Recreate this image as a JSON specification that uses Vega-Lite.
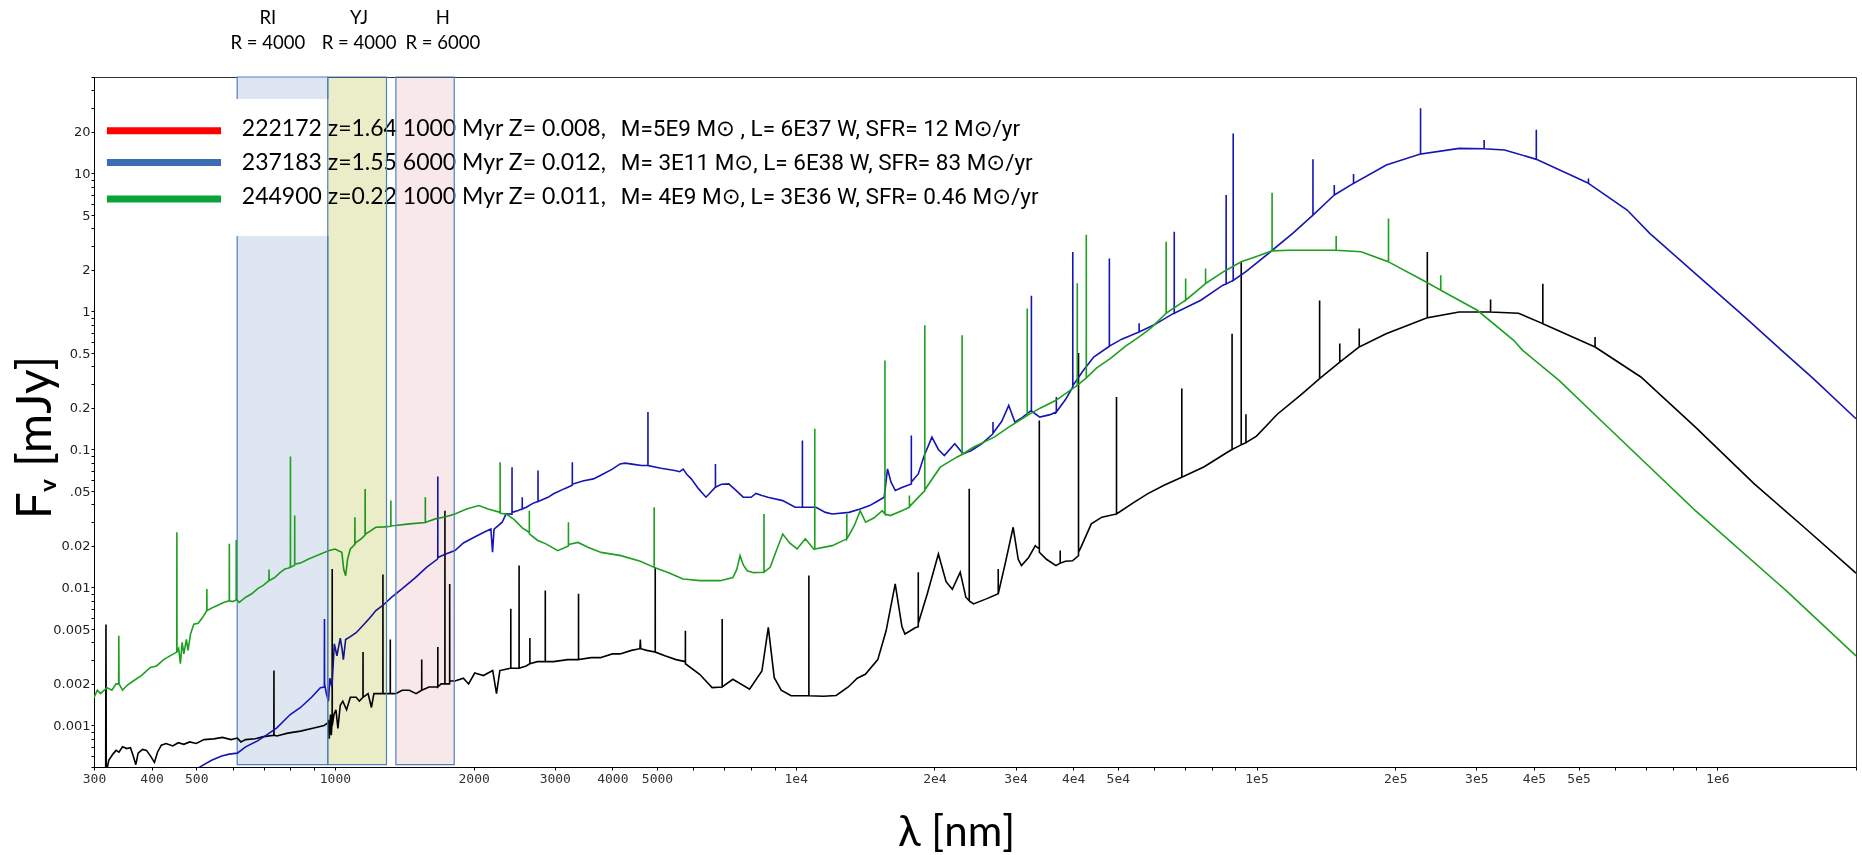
{
  "$schema": "https://vega.github.io/schema/vega-lite/v6.json",
  "width": 1762,
  "height": 690,
  "autosize": {"type": "none"},
  "padding": {"left": 94, "top": 77, "right": 6, "bottom": 88},
  "background": "#ffffff",
  "config": {
    "view": {"stroke": "#333333", "strokeWidth": 1},
    "axis": {"grid": false, "domainColor": "#000000", "tickColor": "#000000", "labelOverlap": false, "labelBound": false, "labelFlush": false}
  },
  "datasets": {
    "bands": [
      {"band": "RI", "R": "R = 4000", "lo": 613.6, "hi": 964.8, "label_nm": 715},
      {"band": "YJ", "R": "R = 4000", "lo": 964.8, "hi": 1294, "label_nm": 1128},
      {"band": "H", "R": "R = 6000", "lo": 1356, "hi": 1815, "label_nm": 1714}
    ],
    "legend": [
      {
        "summary": ["222172 z=1.64 1000 Myr Z= 0.008,", "237183 z=1.55 6000 Myr Z= 0.012,", "244900 z=0.22 1000 Myr Z= 0.011,"],
        "props": ["M=5E9 M⊙ , L= 6E37 W, SFR= 12 M⊙/yr", "M= 3E11 M⊙, L= 6E38 W, SFR= 83 M⊙/yr", "M= 4E9 M⊙, L= 3E36 W, SFR= 0.46 M⊙/yr"]
      }
    ],
    "s222172": [
      {"nm":318,"mJy":0.0004},{"nm":318.5,"mJy":0.0054},{"nm":319,"mJy":0.00045},{"nm":323,"mJy":0.00056},{"nm":329.7,"mJy":0.00062},{"nm":335,"mJy":0.00066},{"nm":339.8,"mJy":0.00064},{"nm":346,"mJy":0.0007},{"nm":353.4,"mJy":0.00068},{"nm":360,"mJy":0.00069},{"nm":365,"mJy":0.0006},{"nm":369.7,"mJy":0.00052},{"nm":374,"mJy":0.00063},{"nm":382.4,"mJy":0.00067},{"nm":390,"mJy":0.00066},{"nm":398,"mJy":0.0006},{"nm":405.8,"mJy":0.00054},{"nm":412,"mJy":0.00064},{"nm":420,"mJy":0.00072},{"nm":430,"mJy":0.00074},{"nm":445,"mJy":0.00071},{"nm":457,"mJy":0.00075},{"nm":470,"mJy":0.00073},{"nm":484,"mJy":0.00076},{"nm":500,"mJy":0.00074},{"nm":520,"mJy":0.00079},{"nm":546,"mJy":0.0008},{"nm":570,"mJy":0.00082},{"nm":595,"mJy":0.00079},{"nm":614,"mJy":0.00081},{"nm":625,"mJy":0.00076},{"nm":640,"mJy":0.00079},{"nm":672,"mJy":0.0008},{"nm":700,"mJy":0.00083},{"nm":737,"mJy":0.00085},{"nm":737.3,"mJy":0.0025},{"nm":737.6,"mJy":0.00085},{"nm":748,"mJy":0.00084},{"nm":790,"mJy":0.00088},{"nm":842,"mJy":0.00091},{"nm":900,"mJy":0.00096},{"nm":948,"mJy":0.001},{"nm":966,"mJy":0.00105},{"nm":968,"mJy":0.0011},{"nm":972,"mJy":0.0008},{"nm":978,"mJy":0.0012},{"nm":982,"mJy":0.00085},{"nm":986.2,"mJy":0.0011},{"nm":986.5,"mJy":0.0136},{"nm":986.8,"mJy":0.001},{"nm":995,"mJy":0.0012},{"nm":1005,"mJy":0.0013},{"nm":1015,"mJy":0.00095},{"nm":1027,"mJy":0.0014},{"nm":1040,"mJy":0.0015},{"nm":1060,"mJy":0.0013},{"nm":1080,"mJy":0.0016},{"nm":1112,"mJy":0.0016},{"nm":1130,"mJy":0.0015},{"nm":1150.5,"mJy":0.0016},{"nm":1150.8,"mJy":0.0034},{"nm":1151.1,"mJy":0.0016},{"nm":1180,"mJy":0.0017},{"nm":1200,"mJy":0.00135},{"nm":1215,"mJy":0.0017},{"nm":1252,"mJy":0.0017},{"nm":1270.8,"mJy":0.0017},{"nm":1271.1,"mJy":0.0124},{"nm":1271.4,"mJy":0.0017},{"nm":1300,"mJy":0.0017},{"nm":1318.4,"mJy":0.0017},{"nm":1318.7,"mJy":0.0042},{"nm":1319,"mJy":0.0017},{"nm":1354,"mJy":0.0017},{"nm":1400,"mJy":0.0018},{"nm":1450,"mJy":0.0018},{"nm":1500,"mJy":0.0017},{"nm":1542.7,"mJy":0.0018},{"nm":1543,"mJy":0.003},{"nm":1543.3,"mJy":0.0018},{"nm":1600,"mJy":0.0019},{"nm":1650,"mJy":0.0019},{"nm":1671.8,"mJy":0.0019},{"nm":1672.1,"mJy":0.0037},{"nm":1672.4,"mJy":0.0019},{"nm":1700,"mJy":0.002},{"nm":1732.4,"mJy":0.002},{"nm":1732.7,"mJy":0.036},{"nm":1733,"mJy":0.002},{"nm":1774,"mJy":0.002},{"nm":1774.3,"mJy":0.0106},{"nm":1774.6,"mJy":0.0021},{"nm":1822,"mJy":0.0021},{"nm":1900,"mJy":0.0022},{"nm":1950,"mJy":0.002},{"nm":2011,"mJy":0.0024},{"nm":2100,"mJy":0.0023},{"nm":2200,"mJy":0.0025},{"nm":2242,"mJy":0.0017},{"nm":2280,"mJy":0.0025},{"nm":2407.5,"mJy":0.0026},{"nm":2408,"mJy":0.007},{"nm":2408.5,"mJy":0.0026},{"nm":2451,"mJy":0.0026},{"nm":2509.5,"mJy":0.0026},{"nm":2510,"mJy":0.0144},{"nm":2510.5,"mJy":0.0026},{"nm":2600,"mJy":0.0027},{"nm":2648.5,"mJy":0.0028},{"nm":2649,"mJy":0.0043},{"nm":2649.5,"mJy":0.0028},{"nm":2750,"mJy":0.0029},{"nm":2860.5,"mJy":0.0029},{"nm":2861,"mJy":0.0095},{"nm":2861.5,"mJy":0.0029},{"nm":2982,"mJy":0.0029},{"nm":3200,"mJy":0.003},{"nm":3377.5,"mJy":0.003},{"nm":3378,"mJy":0.009},{"nm":3378.5,"mJy":0.003},{"nm":3600,"mJy":0.0031},{"nm":3766,"mJy":0.0031},{"nm":4000,"mJy":0.0033},{"nm":4158,"mJy":0.0033},{"nm":4400,"mJy":0.0035},{"nm":4590,"mJy":0.0036},{"nm":4600,"mJy":0.0042},{"nm":4610,"mJy":0.0036},{"nm":4750,"mJy":0.0035},{"nm":4955,"mJy":0.0034},{"nm":4956,"mJy":0.014},{"nm":4957,"mJy":0.0034},{"nm":5200,"mJy":0.0032},{"nm":5500,"mJy":0.003},{"nm":5761,"mJy":0.0029},{"nm":5762,"mJy":0.00485},{"nm":5763,"mJy":0.0028},{"nm":6187,"mJy":0.00235},{"nm":6585,"mJy":0.00188},{"nm":6924,"mJy":0.0019},{"nm":6925,"mJy":0.0059},{"nm":6926,"mJy":0.0019},{"nm":7304,"mJy":0.00216},{"nm":7940,"mJy":0.00183},{"nm":8446,"mJy":0.00248},{"nm":8720,"mJy":0.00513},{"nm":8983,"mJy":0.00222},{"nm":9300,"mJy":0.0018},{"nm":9772,"mJy":0.00164},{"nm":10679,"mJy":0.00164},{"nm":10680,"mJy":0.0122},{"nm":10681,"mJy":0.00164},{"nm":11500,"mJy":0.00163},{"nm":12240,"mJy":0.00165},{"nm":13000,"mJy":0.0019},{"nm":13600,"mJy":0.0022},{"nm":14160,"mJy":0.00235},{"nm":15070,"mJy":0.003},{"nm":15710,"mJy":0.00485},{"nm":16440,"mJy":0.0106},{"nm":17000,"mJy":0.0052},{"nm":17260,"mJy":0.0046},{"nm":18170,"mJy":0.0051},{"nm":18448,"mJy":0.0052},{"nm":18450,"mJy":0.0129},{"nm":18452,"mJy":0.0055},{"nm":19300,"mJy":0.009},{"nm":20400,"mJy":0.0175},{"nm":21200,"mJy":0.011},{"nm":21870,"mJy":0.0097},{"nm":22750,"mJy":0.0129},{"nm":23400,"mJy":0.0085},{"nm":23798,"mJy":0.008},{"nm":23800,"mJy":0.052},{"nm":23802,"mJy":0.008},{"nm":24320,"mJy":0.0076},{"nm":26000,"mJy":0.0083},{"nm":27508,"mJy":0.009},{"nm":27510,"mJy":0.0136},{"nm":27512,"mJy":0.009},{"nm":28500,"mJy":0.015},{"nm":29640,"mJy":0.0273},{"nm":30400,"mJy":0.016},{"nm":30900,"mJy":0.0144},{"nm":32030,"mJy":0.0165},{"nm":33110,"mJy":0.0201},{"nm":33778,"mJy":0.019},{"nm":33780,"mJy":0.162},{"nm":33782,"mJy":0.018},{"nm":35000,"mJy":0.016},{"nm":36710,"mJy":0.0144},{"nm":37498,"mJy":0.015},{"nm":37500,"mJy":0.0185},{"nm":37502,"mJy":0.015},{"nm":38500,"mJy":0.0155},{"nm":39880,"mJy":0.0156},{"nm":41088,"mJy":0.017},{"nm":41090,"mJy":0.5},{"nm":41092,"mJy":0.018},{"nm":41580,"mJy":0.0195},{"nm":43800,"mJy":0.0289},{"nm":46180,"mJy":0.0323},{"nm":49678,"mJy":0.0341},{"nm":49680,"mJy":0.24},{"nm":49682,"mJy":0.0341},{"nm":54000,"mJy":0.041},{"nm":57980,"mJy":0.0477},{"nm":63000,"mJy":0.055},{"nm":68845,"mJy":0.063},{"nm":68850,"mJy":0.276},{"nm":68855,"mJy":0.063},{"nm":77000,"mJy":0.075},{"nm":86440,"mJy":0.0955},{"nm":88505,"mJy":0.1},{"nm":88510,"mJy":0.69},{"nm":88515,"mJy":0.1},{"nm":92645,"mJy":0.108},{"nm":92650,"mJy":2.29},{"nm":92655,"mJy":0.108},{"nm":94865,"mJy":0.112},{"nm":94870,"mJy":0.18},{"nm":94875,"mJy":0.112},{"nm":100000,"mJy":0.125},{"nm":110950,"mJy":0.18},{"nm":125000,"mJy":0.25},{"nm":137070,"mJy":0.326},{"nm":137080,"mJy":1.2},{"nm":137090,"mJy":0.326},{"nm":151590,"mJy":0.43},{"nm":151600,"mJy":0.585},{"nm":151610,"mJy":0.43},{"nm":167090,"mJy":0.553},{"nm":167100,"mJy":0.751},{"nm":167110,"mJy":0.553},{"nm":191100,"mJy":0.69},{"nm":234790,"mJy":0.9},{"nm":234800,"mJy":2.7},{"nm":234810,"mJy":0.9},{"nm":275300,"mJy":0.99},{"nm":322090,"mJy":0.99},{"nm":322100,"mJy":1.22},{"nm":322110,"mJy":0.99},{"nm":370400,"mJy":0.97},{"nm":418190,"mJy":0.816},{"nm":418200,"mJy":1.59},{"nm":418210,"mJy":0.816},{"nm":542990,"mJy":0.553},{"nm":543000,"mJy":0.654},{"nm":543010,"mJy":0.553},{"nm":682600,"mJy":0.335},{"nm":896400,"mJy":0.145},{"nm":1203000,"mJy":0.0563},{"nm":1543000,"mJy":0.0273},{"nm":2000000,"mJy":0.0127}
    ],
    "s237183": [
      {"nm":500,"mJy":0.00045},{"nm":509,"mJy":0.0005},{"nm":540,"mJy":0.00056},{"nm":568,"mJy":0.0006},{"nm":590,"mJy":0.00062},{"nm":614,"mJy":0.00063},{"nm":640,"mJy":0.0007},{"nm":678,"mJy":0.00077},{"nm":710,"mJy":0.00085},{"nm":748,"mJy":0.00096},{"nm":800,"mJy":0.0012},{"nm":842,"mJy":0.00135},{"nm":890,"mJy":0.0016},{"nm":930,"mJy":0.00188},{"nm":948.5,"mJy":0.0019},{"nm":949,"mJy":0.0059},{"nm":949.5,"mJy":0.002},{"nm":958,"mJy":0.0017},{"nm":968,"mJy":0.0015},{"nm":975,"mJy":0.0022},{"nm":985,"mJy":0.0019},{"nm":997,"mJy":0.0039},{"nm":1010,"mJy":0.0032},{"nm":1027,"mJy":0.0043},{"nm":1036,"mJy":0.0036},{"nm":1043,"mJy":0.003},{"nm":1055,"mJy":0.0042},{"nm":1080,"mJy":0.0044},{"nm":1112,"mJy":0.0047},{"nm":1150,"mJy":0.0053},{"nm":1190,"mJy":0.006},{"nm":1227,"mJy":0.0068},{"nm":1270,"mJy":0.0074},{"nm":1328,"mJy":0.0085},{"nm":1400,"mJy":0.0098},{"nm":1495,"mJy":0.0118},{"nm":1580,"mJy":0.014},{"nm":1667,"mJy":0.016},{"nm":1671.7,"mJy":0.0162},{"nm":1672,"mJy":0.0637},{"nm":1672.3,"mJy":0.0165},{"nm":1740,"mJy":0.0175},{"nm":1822,"mJy":0.0185},{"nm":1900,"mJy":0.021},{"nm":2000,"mJy":0.023},{"nm":2100,"mJy":0.025},{"nm":2180,"mJy":0.0265},{"nm":2198,"mJy":0.018},{"nm":2215,"mJy":0.0265},{"nm":2307,"mJy":0.0297},{"nm":2351,"mJy":0.0341},{"nm":2422.7,"mJy":0.034},{"nm":2423,"mJy":0.0744},{"nm":2423.3,"mJy":0.035},{"nm":2490,"mJy":0.036},{"nm":2549.7,"mJy":0.037},{"nm":2550,"mJy":0.0451},{"nm":2550.3,"mJy":0.037},{"nm":2602,"mJy":0.0381},{"nm":2700,"mJy":0.041},{"nm":2758.7,"mJy":0.042},{"nm":2759,"mJy":0.0704},{"nm":2759.3,"mJy":0.042},{"nm":2900,"mJy":0.045},{"nm":2982,"mJy":0.0477},{"nm":3150,"mJy":0.052},{"nm":3274.6,"mJy":0.055},{"nm":3275,"mJy":0.0808},{"nm":3275.4,"mJy":0.056},{"nm":3450,"mJy":0.059},{"nm":3638,"mJy":0.0612},{"nm":3766,"mJy":0.0648},{"nm":4000,"mJy":0.072},{"nm":4158,"mJy":0.0786},{"nm":4263,"mJy":0.0796},{"nm":4450,"mJy":0.078},{"nm":4628,"mJy":0.0765},{"nm":4778.5,"mJy":0.0765},{"nm":4779,"mJy":0.1865},{"nm":4779.5,"mJy":0.0765},{"nm":5100,"mJy":0.073},{"nm":5462,"mJy":0.0704},{"nm":5600,"mJy":0.069},{"nm":5700,"mJy":0.072},{"nm":5800,"mJy":0.066},{"nm":5934,"mJy":0.0612},{"nm":6150,"mJy":0.052},{"nm":6386,"mJy":0.0451},{"nm":6500,"mJy":0.048},{"nm":6695,"mJy":0.0533},{"nm":6696,"mJy":0.0786},{"nm":6697,"mJy":0.0533},{"nm":6900,"mJy":0.056},{"nm":7156,"mJy":0.0563},{"nm":7400,"mJy":0.051},{"nm":7692,"mJy":0.0451},{"nm":8000,"mJy":0.045},{"nm":8200,"mJy":0.048},{"nm":8446,"mJy":0.0464},{"nm":8700,"mJy":0.045},{"nm":9370,"mJy":0.0426},{"nm":9970,"mJy":0.0381},{"nm":10339,"mJy":0.0381},{"nm":10340,"mJy":0.1162},{"nm":10341,"mJy":0.0381},{"nm":11060,"mJy":0.0381},{"nm":11600,"mJy":0.035},{"nm":12010,"mJy":0.0341},{"nm":13050,"mJy":0.035},{"nm":13800,"mJy":0.037},{"nm":14470,"mJy":0.0392},{"nm":15000,"mJy":0.042},{"nm":15560,"mJy":0.0451},{"nm":15820,"mJy":0.0723},{"nm":16100,"mJy":0.058},{"nm":16450,"mJy":0.0504},{"nm":17000,"mJy":0.053},{"nm":17819,"mJy":0.0563},{"nm":17820,"mJy":0.1263},{"nm":17821,"mJy":0.058},{"nm":18450,"mJy":0.0665},{"nm":19000,"mJy":0.09},{"nm":19750,"mJy":0.1229},{"nm":20400,"mJy":0.1},{"nm":21010,"mJy":0.0903},{"nm":22140,"mJy":0.11},{"nm":23080,"mJy":0.093},{"nm":24000,"mJy":0.098},{"nm":25330,"mJy":0.11},{"nm":26799,"mJy":0.13},{"nm":26800,"mJy":0.158},{"nm":26801,"mJy":0.131},{"nm":28000,"mJy":0.16},{"nm":28990,"mJy":0.2084},{"nm":29900,"mJy":0.1578},{"nm":31000,"mJy":0.17},{"nm":32469,"mJy":0.1917},{"nm":32470,"mJy":1.3},{"nm":32471,"mJy":0.19},{"nm":33850,"mJy":0.1715},{"nm":35500,"mJy":0.178},{"nm":36779,"mJy":0.1865},{"nm":36780,"mJy":0.24},{"nm":36781,"mJy":0.187},{"nm":38500,"mJy":0.23},{"nm":39929,"mJy":0.2835},{"nm":39930,"mJy":2.7},{"nm":39931,"mJy":0.29},{"nm":42000,"mJy":0.37},{"nm":44330,"mJy":0.4674},{"nm":47935,"mJy":0.56},{"nm":47940,"mJy":2.42},{"nm":47945,"mJy":0.56},{"nm":51000,"mJy":0.63},{"nm":55615,"mJy":0.7106},{"nm":55620,"mJy":0.82},{"nm":55625,"mJy":0.71},{"nm":60000,"mJy":0.8},{"nm":65900,"mJy":0.9645},{"nm":66295,"mJy":0.97},{"nm":66300,"mJy":3.78},{"nm":66305,"mJy":0.97},{"nm":75710,"mJy":1.207},{"nm":84550,"mJy":1.55},{"nm":85925,"mJy":1.58},{"nm":85930,"mJy":6.98},{"nm":85935,"mJy":1.58},{"nm":89005,"mJy":1.68},{"nm":89010,"mJy":19.5},{"nm":89015,"mJy":1.68},{"nm":95000,"mJy":1.95},{"nm":106100,"mJy":2.63},{"nm":120000,"mJy":3.7},{"nm":132590,"mJy":4.99},{"nm":132600,"mJy":12.66},{"nm":132610,"mJy":4.99},{"nm":147490,"mJy":6.98},{"nm":147500,"mJy":8.25},{"nm":147510,"mJy":6.98},{"nm":162390,"mJy":8.48},{"nm":162400,"mJy":9.92},{"nm":162410,"mJy":8.48},{"nm":191300,"mJy":11.51},{"nm":226990,"mJy":13.84},{"nm":227000,"mJy":29.7},{"nm":227010,"mJy":13.84},{"nm":275300,"mJy":15.2},{"nm":311890,"mJy":15.1},{"nm":311900,"mJy":17.5},{"nm":311910,"mJy":15.1},{"nm":345400,"mJy":14.8},{"nm":404790,"mJy":12.66},{"nm":404800,"mJy":20.7},{"nm":404810,"mJy":12.66},{"nm":525290,"mJy":8.48},{"nm":525300,"mJy":9.2},{"nm":525310,"mJy":8.48},{"nm":637300,"mJy":5.43},{"nm":713600,"mJy":3.68},{"nm":896400,"mJy":1.88},{"nm":1124000,"mJy":0.97},{"nm":1379000,"mJy":0.523},{"nm":1616000,"mJy":0.326},{"nm":2000000,"mJy":0.167}
    ],
    "s244900": [
      {"nm":300,"mJy":0.00159},{"nm":305,"mJy":0.0018},{"nm":310,"mJy":0.0017},{"nm":320,"mJy":0.00188},{"nm":328,"mJy":0.0018},{"nm":335,"mJy":0.002},{"nm":339.3,"mJy":0.002},{"nm":339.6,"mJy":0.00447},{"nm":340,"mJy":0.002},{"nm":346,"mJy":0.0018},{"nm":353,"mJy":0.00194},{"nm":365,"mJy":0.0021},{"nm":380,"mJy":0.0023},{"nm":397.7,"mJy":0.00263},{"nm":410,"mJy":0.0027},{"nm":425,"mJy":0.003},{"nm":438.5,"mJy":0.00319},{"nm":453.6,"mJy":0.0034},{"nm":453.9,"mJy":0.0251},{"nm":454.2,"mJy":0.0034},{"nm":458,"mJy":0.0036},{"nm":462,"mJy":0.0028},{"nm":466,"mJy":0.004},{"nm":470,"mJy":0.0033},{"nm":476,"mJy":0.0042},{"nm":480,"mJy":0.0035},{"nm":486,"mJy":0.0046},{"nm":494,"mJy":0.00542},{"nm":505,"mJy":0.0055},{"nm":515,"mJy":0.006},{"nm":527,"mJy":0.00678},{"nm":527.3,"mJy":0.00974},{"nm":527.6,"mJy":0.0068},{"nm":545,"mJy":0.0072},{"nm":560,"mJy":0.0075},{"nm":575,"mJy":0.0078},{"nm":589.7,"mJy":0.008},{"nm":590,"mJy":0.0207},{"nm":590.3,"mJy":0.008},{"nm":600,"mJy":0.0079},{"nm":610.5,"mJy":0.0081},{"nm":610.8,"mJy":0.0221},{"nm":611.1,"mJy":0.0082},{"nm":620,"mJy":0.0078},{"nm":639,"mJy":0.00846},{"nm":660,"mJy":0.009},{"nm":680,"mJy":0.0098},{"nm":700,"mJy":0.0104},{"nm":719,"mJy":0.0112},{"nm":719.4,"mJy":0.0135},{"nm":719.8,"mJy":0.0112},{"nm":740,"mJy":0.0118},{"nm":760,"mJy":0.0128},{"nm":778.6,"mJy":0.0136},{"nm":790,"mJy":0.0138},{"nm":800.4,"mJy":0.014},{"nm":800.7,"mJy":0.0889},{"nm":801,"mJy":0.014},{"nm":817.6,"mJy":0.0145},{"nm":817.9,"mJy":0.0332},{"nm":818.2,"mJy":0.0148},{"nm":840,"mJy":0.015},{"nm":876.6,"mJy":0.01606},{"nm":920,"mJy":0.0172},{"nm":968,"mJy":0.01846},{"nm":1000,"mJy":0.019},{"nm":1035,"mJy":0.018},{"nm":1045,"mJy":0.0135},{"nm":1055,"mJy":0.01217},{"nm":1065,"mJy":0.016},{"nm":1080,"mJy":0.019},{"nm":1104.7,"mJy":0.0205},{"nm":1105,"mJy":0.0323},{"nm":1105.3,"mJy":0.0207},{"nm":1111.6,"mJy":0.0212},{"nm":1140,"mJy":0.0225},{"nm":1162.7,"mJy":0.024},{"nm":1163,"mJy":0.0518},{"nm":1163.3,"mJy":0.0243},{"nm":1190,"mJy":0.0255},{"nm":1226.6,"mJy":0.0273},{"nm":1280,"mJy":0.0275},{"nm":1322.2,"mJy":0.0278},{"nm":1322.5,"mJy":0.0426},{"nm":1322.8,"mJy":0.028},{"nm":1354,"mJy":0.0281},{"nm":1450,"mJy":0.0289},{"nm":1570.7,"mJy":0.0295},{"nm":1571,"mJy":0.0451},{"nm":1571.3,"mJy":0.0296},{"nm":1650.6,"mJy":0.0314},{"nm":1740,"mJy":0.0325},{"nm":1822,"mJy":0.0341},{"nm":1930,"mJy":0.037},{"nm":2052,"mJy":0.0392},{"nm":2150,"mJy":0.037},{"nm":2282.7,"mJy":0.035},{"nm":2283,"mJy":0.0808},{"nm":2283.3,"mJy":0.0345},{"nm":2351,"mJy":0.0341},{"nm":2450,"mJy":0.031},{"nm":2550,"mJy":0.027},{"nm":2641.7,"mJy":0.025},{"nm":2642,"mJy":0.036},{"nm":2642.3,"mJy":0.0245},{"nm":2750,"mJy":0.022},{"nm":2870,"mJy":0.0207},{"nm":3045,"mJy":0.01846},{"nm":3211.7,"mJy":0.02},{"nm":3212,"mJy":0.0297},{"nm":3212.3,"mJy":0.0205},{"nm":3369,"mJy":0.0212},{"nm":3550,"mJy":0.0195},{"nm":3782,"mJy":0.01795},{"nm":4175,"mJy":0.017},{"nm":4600,"mJy":0.0155},{"nm":4929,"mJy":0.01398},{"nm":4930,"mJy":0.0381},{"nm":4931,"mJy":0.01398},{"nm":5300,"mJy":0.0128},{"nm":5694,"mJy":0.0115},{"nm":6200,"mJy":0.0112},{"nm":6861,"mJy":0.0112},{"nm":7304,"mJy":0.0118},{"nm":7450,"mJy":0.0135},{"nm":7571,"mJy":0.017},{"nm":7700,"mJy":0.0145},{"nm":7846,"mJy":0.0132},{"nm":8100,"mJy":0.0128},{"nm":8534,"mJy":0.0129},{"nm":8535,"mJy":0.0341},{"nm":8536,"mJy":0.0129},{"nm":8803,"mJy":0.014},{"nm":9050,"mJy":0.018},{"nm":9372,"mJy":0.0244},{"nm":9700,"mJy":0.021},{"nm":10070,"mJy":0.019},{"nm":10490,"mJy":0.0225},{"nm":10940,"mJy":0.019},{"nm":10999,"mJy":0.019},{"nm":11000,"mJy":0.1412},{"nm":11001,"mJy":0.019},{"nm":12000,"mJy":0.0201},{"nm":12909,"mJy":0.0225},{"nm":12910,"mJy":0.0341},{"nm":12911,"mJy":0.0225},{"nm":13400,"mJy":0.028},{"nm":13800,"mJy":0.036},{"nm":14180,"mJy":0.0297},{"nm":14800,"mJy":0.032},{"nm":15410,"mJy":0.036},{"nm":15619,"mJy":0.034},{"nm":15620,"mJy":0.442},{"nm":15621,"mJy":0.034},{"nm":16040,"mJy":0.0332},{"nm":17000,"mJy":0.036},{"nm":17649,"mJy":0.0381},{"nm":17650,"mJy":0.0464},{"nm":17651,"mJy":0.0385},{"nm":18920,"mJy":0.049},{"nm":19059,"mJy":0.05},{"nm":19060,"mJy":0.794},{"nm":19061,"mJy":0.051},{"nm":20590,"mJy":0.0744},{"nm":22360,"mJy":0.0879},{"nm":22969,"mJy":0.092},{"nm":22970,"mJy":0.672},{"nm":22971,"mJy":0.092},{"nm":24290,"mJy":0.1038},{"nm":26960,"mJy":0.1229},{"nm":29000,"mJy":0.145},{"nm":31799,"mJy":0.1764},{"nm":31800,"mJy":1.05},{"nm":31801,"mJy":0.1764},{"nm":34000,"mJy":0.2},{"nm":36710,"mJy":0.227},{"nm":40835,"mJy":0.2914},{"nm":40840,"mJy":1.6},{"nm":40845,"mJy":0.2914},{"nm":42715,"mJy":0.33},{"nm":42720,"mJy":3.6},{"nm":42725,"mJy":0.33},{"nm":45000,"mJy":0.39},{"nm":48140,"mJy":0.4555},{"nm":52000,"mJy":0.56},{"nm":55620,"mJy":0.654},{"nm":58810,"mJy":0.751},{"nm":63665,"mJy":0.97},{"nm":63670,"mJy":3.2},{"nm":63675,"mJy":0.97},{"nm":70175,"mJy":1.207},{"nm":70180,"mJy":1.733},{"nm":70185,"mJy":1.207},{"nm":77525,"mJy":1.594},{"nm":77530,"mJy":2.047},{"nm":77535,"mJy":1.594},{"nm":85000,"mJy":1.95},{"nm":92650,"mJy":2.288},{"nm":100000,"mJy":2.5},{"nm":108090,"mJy":2.75},{"nm":108100,"mJy":7.26},{"nm":108110,"mJy":2.75},{"nm":118000,"mJy":2.78},{"nm":130200,"mJy":2.78},{"nm":148890,"mJy":2.78},{"nm":148900,"mJy":3.52},{"nm":148910,"mJy":2.78},{"nm":168700,"mJy":2.707},{"nm":193390,"mJy":2.288},{"nm":193400,"mJy":4.72},{"nm":193410,"mJy":2.288},{"nm":229600,"mJy":1.685},{"nm":251090,"mJy":1.426},{"nm":251100,"mJy":1.83},{"nm":251110,"mJy":1.426},{"nm":301400,"mJy":1.02},{"nm":361500,"mJy":0.618},{"nm":378100,"mJy":0.523},{"nm":453500,"mJy":0.3166},{"nm":568600,"mJy":0.1535},{"nm":896400,"mJy":0.036},{"nm":1411000,"mJy":0.00948},{"nm":2000000,"mJy":0.00319}
    ]
  },
  "layer": [
    {
      "data": {"name": "bands"},
      "transform": [{"filter": "datum.band === 'RI'"}],
      "mark": {"type": "rect", "stroke": "#4f81bd", "strokeWidth": 1.2},
      "encoding": {
        "x": {"field": "lo", "type": "quantitative", "scale": {"type": "log", "domain": [300, 2000000], "nice": false}},
        "x2": {"field": "hi"},
        "y": {"datum": 0.000521, "type": "quantitative", "scale": {"type": "log", "domain": [0.0005, 50], "nice": false}},
        "y2": {"datum": 50},
        "fill": {"field": "band", "type": "nominal", "scale": {"domain": ["RI", "YJ", "H"], "range": ["#dee6f1", "#ebedc8", "#f9e8ea"]}, "legend": null}
      }
    },
    {
      "data": {"name": "legend"},
      "mark": {"type": "rect", "fill": "#ffffff", "strokeWidth": 0},
      "encoding": {
        "x": {"datum": 310, "type": "quantitative"},
        "x2": {"datum": 37000},
        "y": {"datum": 3.52, "type": "quantitative"},
        "y2": {"datum": 34.7}
      }
    },
    {
      "data": {"name": "s222172"},
      "mark": {"type": "line", "color": "#000000", "strokeWidth": 1.6, "clip": true},
      "encoding": {
        "x": {
          "field": "nm", "type": "quantitative",
          "scale": {"type": "log", "domain": [300, 2000000], "nice": false},
          "axis": {
            "values": [300,400,500,600,700,800,900,1000,2000,3000,4000,5000,6000,7000,8000,9000,10000,20000,30000,40000,50000,60000,70000,80000,90000,100000,200000,300000,400000,500000,600000,700000,800000,900000,1000000,2000000],
            "labelExpr": "indexof([300,400,500,1000,2000,3000,4000,5000], datum.value) >= 0 ? '' + datum.value : indexof([10000,20000,30000,40000,50000], datum.value) >= 0 ? (datum.value / 10000) + 'e4' : indexof([100000,200000,300000,400000,500000], datum.value) >= 0 ? (datum.value / 100000) + 'e5' : datum.value === 1000000 ? '1e6' : ''",
            "tickSize": 3,
            "labelFont": "DejaVu Sans Mono", "labelFontSize": 13, "labelColor": "#333333", "labelPadding": 2,
            "title": "λ [nm]", "titleFont": "Lato", "titleFontSize": 42, "titleFontWeight": "normal", "titleColor": "#000000",
            "titleX": 862, "titleY": 65, "titleAlign": "center", "titleBaseline": "middle"
          }
        },
        "y": {
          "field": "mJy", "type": "quantitative",
          "scale": {"type": "log", "domain": [0.0005, 50], "nice": false},
          "axis": {
            "values": [0.0005,0.0006,0.0007,0.0008,0.0009,0.001,0.002,0.003,0.004,0.005,0.006,0.007,0.008,0.009,0.01,0.02,0.03,0.04,0.05,0.06,0.07,0.08,0.09,0.1,0.2,0.3,0.4,0.5,0.6,0.7,0.8,0.9,1,2,3,4,5,6,7,8,9,10,20,30,40,50],
            "labelExpr": "datum.value === 0.05 ? '.05' : indexof([0.001,0.002,0.005,0.01,0.02,0.1,0.2,0.5,1,2,5,10,20], datum.value) >= 0 ? '' + datum.value : ''",
            "tickSize": 3,
            "labelFont": "DejaVu Sans", "labelFontSize": 13, "labelColor": "#222222", "labelPadding": 1,
            "title": "Fᵥ [mJy]", "titleFont": "Lato", "titleFontSize": 48, "titleFontWeight": "normal", "titleColor": "#000000",
            "titleAngle": 270, "titleX": -58, "titleY": 360, "titleAlign": "center", "titleBaseline": "middle"
          }
        }
      }
    },
    {
      "data": {"name": "s237183"},
      "mark": {"type": "line", "color": "#1515b5", "strokeWidth": 1.6, "clip": true},
      "encoding": {
        "x": {"field": "nm", "type": "quantitative"},
        "y": {"field": "mJy", "type": "quantitative"}
      }
    },
    {
      "data": {"name": "s244900"},
      "mark": {"type": "line", "color": "#1f9f1f", "strokeWidth": 1.6, "clip": true},
      "encoding": {
        "x": {"field": "nm", "type": "quantitative"},
        "y": {"field": "mJy", "type": "quantitative"}
      }
    },
    {
      "data": {"name": "legend"},
      "mark": {"type": "rule", "color": "#ff0000", "strokeWidth": 7, "strokeCap": "butt"},
      "encoding": {
        "x": {"datum": 320, "type": "quantitative"},
        "x2": {"datum": 566},
        "y": {"datum": 20.4, "type": "quantitative"}
      }
    },
    {
      "data": {"name": "legend"},
      "mark": {"type": "rule", "color": "#3c6cb4", "strokeWidth": 7, "strokeCap": "butt"},
      "encoding": {
        "x": {"datum": 320, "type": "quantitative"},
        "x2": {"datum": 566},
        "y": {"datum": 12.0, "type": "quantitative"}
      }
    },
    {
      "data": {"name": "legend"},
      "mark": {"type": "rule", "color": "#0aa33a", "strokeWidth": 7, "strokeCap": "butt"},
      "encoding": {
        "x": {"datum": 320, "type": "quantitative"},
        "x2": {"datum": 566},
        "y": {"datum": 6.53, "type": "quantitative"}
      }
    },
    {
      "data": {"name": "legend"},
      "mark": {"type": "text", "font": "Lato, DejaVu Sans", "fontSize": 23, "align": "left", "baseline": "middle", "lineHeight": 33.7, "color": "#000000"},
      "encoding": {
        "x": {"datum": 628, "type": "quantitative"},
        "y": {"datum": 20.9, "type": "quantitative"},
        "text": {"field": "summary", "type": "nominal"}
      }
    },
    {
      "data": {"name": "legend"},
      "mark": {"type": "text", "font": "Roboto, DejaVu Sans", "fontSize": 22.5, "align": "left", "baseline": "middle", "lineHeight": 33.7, "color": "#000000"},
      "encoding": {
        "x": {"datum": 4173, "type": "quantitative"},
        "y": {"datum": 20.9, "type": "quantitative"},
        "text": {"field": "props", "type": "nominal"}
      }
    },
    {
      "data": {"name": "bands"},
      "transform": [{"filter": "datum.band !== 'RI'"}],
      "mark": {"type": "rect", "blend": "multiply", "strokeWidth": 0},
      "encoding": {
        "x": {"field": "lo", "type": "quantitative"},
        "x2": {"field": "hi"},
        "y": {"datum": 0.000521, "type": "quantitative"},
        "y2": {"datum": 50},
        "fill": {"field": "band", "type": "nominal", "scale": {"domain": ["RI", "YJ", "H"], "range": ["#dee6f1", "#ebedc8", "#f9e8ea"]}, "legend": null}
      }
    },
    {
      "data": {"name": "bands"},
      "transform": [{"filter": "datum.band !== 'RI'"}],
      "mark": {"type": "rect", "filled": false, "color": "#4f81bd", "strokeWidth": 1.2},
      "encoding": {
        "x": {"field": "lo", "type": "quantitative"},
        "x2": {"field": "hi"},
        "y": {"datum": 0.000521, "type": "quantitative"},
        "y2": {"datum": 50}
      }
    },
    {
      "data": {"name": "bands"},
      "transform": [{"calculate": "[datum.band, datum.R]", "as": "lines"}],
      "mark": {"type": "text", "font": "Lato, DejaVu Sans", "fontSize": 18.5, "align": "center", "baseline": "middle", "lineHeight": 25, "color": "#000000"},
      "encoding": {
        "x": {"field": "label_nm", "type": "quantitative"},
        "y": {"datum": 133, "type": "quantitative"},
        "text": {"field": "lines", "type": "nominal"}
      }
    }
  ]
}
